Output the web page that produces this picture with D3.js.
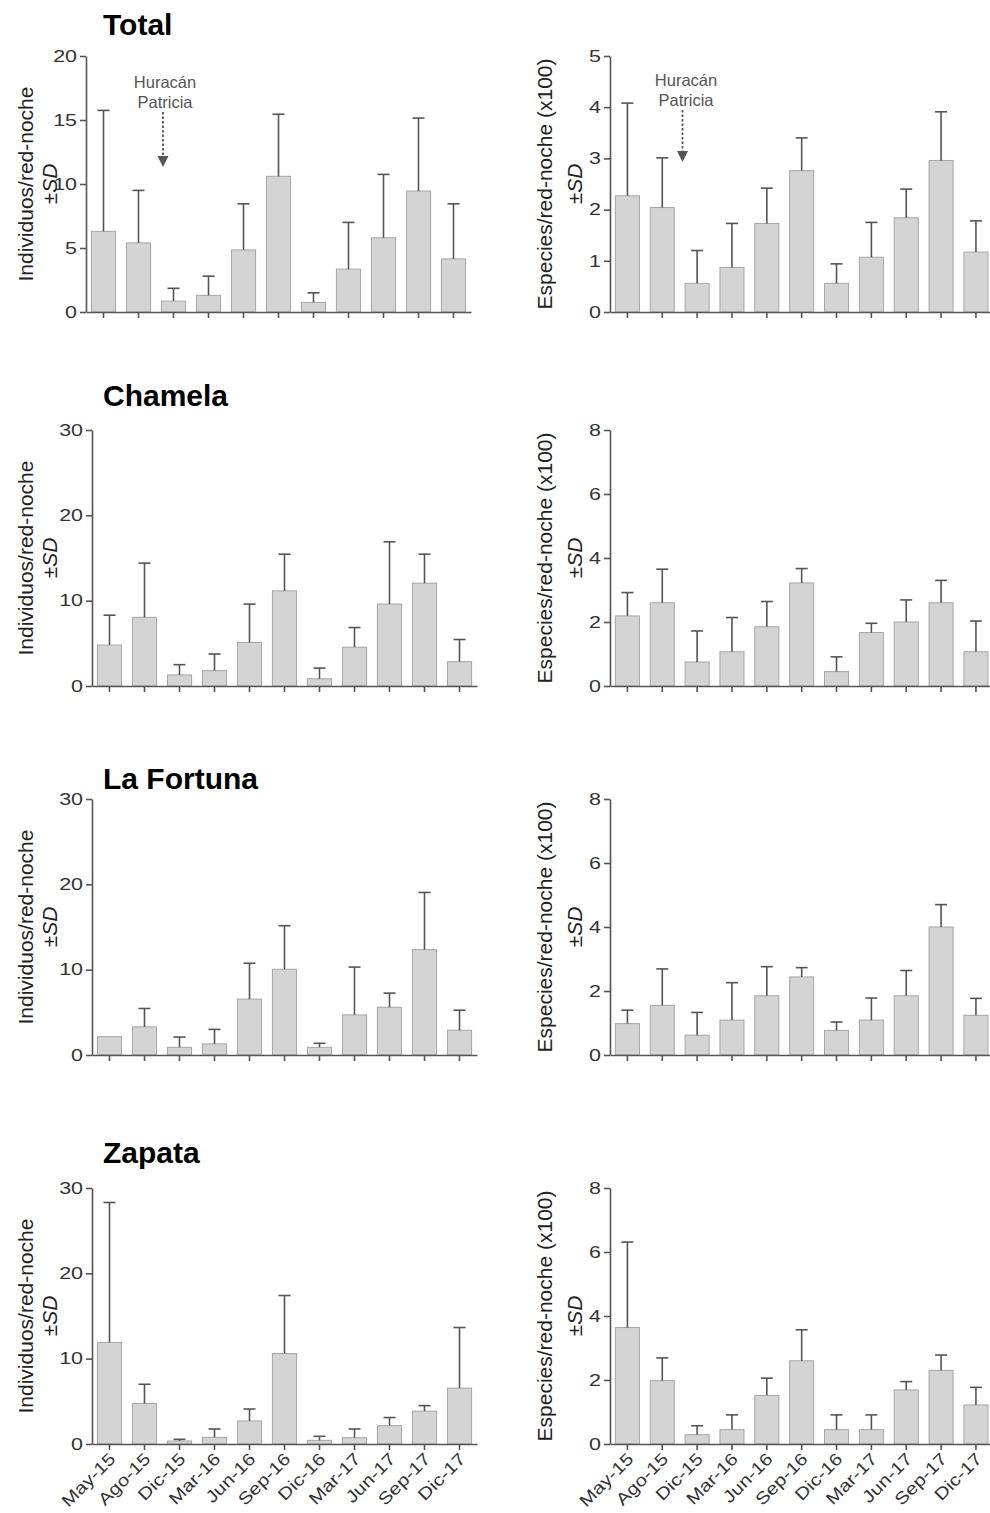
<!DOCTYPE html>
<html>
<head>
<meta charset="utf-8">
<script src="https://cdn.jsdelivr.net/npm/d3@7"></script>
<style>
  body { margin: 0; background: #fff; }
  svg text { font-family: "Liberation Sans", Arial, sans-serif; }
</style>
</head>
<body>
<svg id="chart" width="990" height="1513"></svg>
<script>
// Sampling dates
const months = ["May-15","Ago-15","Dic-15","Mar-16","Jun-16","Sep-16","Dic-16","Mar-17","Jun-17","Sep-17","Dic-17"];

// Sites (panel titles)
const sites = ["Total", "Chamela", "La Fortuna", "Zapata"];

// Individuals per net-night: mean and SD
const totalIndMean   = [6.3, 5.4, 0.85, 1.3, 4.85, 10.6, 0.75, 3.35, 5.8, 9.45, 4.15];
const totalIndSD     = [9.45, 4.1, 1.0, 1.5, 3.6, 4.85, 0.75, 3.65, 4.95, 5.7, 4.3];
const chamelaIndMean = [4.8, 8.05, 1.3, 1.8, 5.1, 11.15, 0.85, 4.55, 9.6, 12.05, 2.85];
const chamelaIndSD   = [3.5, 6.35, 1.2, 1.95, 4.5, 4.3, 1.25, 2.3, 7.3, 3.4, 2.6];
const fortunaIndMean = [2.15, 3.3, 0.9, 1.3, 6.55, 10.05, 0.9, 4.7, 5.6, 12.35, 2.9];
const fortunaIndSD   = [0, 2.15, 1.2, 1.7, 4.2, 5.1, 0.47, 5.6, 1.65, 6.7, 2.35];
const zapataIndMean  = [11.9, 4.75, 0.35, 0.78, 2.7, 10.6, 0.43, 0.74, 2.15, 3.85, 6.55];
const zapataIndSD    = [16.4, 2.25, 0.2, 0.98, 1.4, 6.8, 0.47, 1.02, 0.95, 0.65, 7.1];

// Species per net-night (x100): mean and SD
const totalSpMean   = [2.27, 2.04, 0.56, 0.87, 1.73, 2.76, 0.56, 1.07, 1.84, 2.96, 1.17];
const totalSpSD     = [1.81, 0.97, 0.64, 0.86, 0.69, 0.64, 0.38, 0.68, 0.56, 0.95, 0.61];
const chamelaSpMean = [2.19, 2.6, 0.75, 1.07, 1.85, 3.22, 0.45, 1.67, 2.0, 2.6, 1.07];
const chamelaSpSD   = [0.73, 1.05, 0.97, 1.07, 0.79, 0.45, 0.46, 0.29, 0.69, 0.7, 0.96];
const fortunaSpMean = [0.98, 1.55, 0.62, 1.09, 1.85, 2.44, 0.77, 1.09, 1.85, 4.0, 1.24];
const fortunaSpSD   = [0.42, 1.14, 0.71, 1.17, 0.91, 0.29, 0.26, 0.69, 0.79, 0.7, 0.53];
const zapataSpMean  = [3.64, 1.98, 0.29, 0.45, 1.52, 2.6, 0.45, 0.45, 1.69, 2.3, 1.22];
const zapataSpSD    = [2.67, 0.71, 0.28, 0.46, 0.54, 0.97, 0.46, 0.46, 0.26, 0.48, 0.55];

// Axis ticks
const indTicksTotal = [0, 5, 10, 15, 20];
const indTicksSite  = [0, 10, 20, 30];
const spTicksTotal  = [0, 1, 2, 3, 4, 5];
const spTicksSite   = [0, 2, 4, 6, 8];

// Axis titles and annotation
const indLabel = "Individuos/red-noche";
const spLabel  = "Especies/red-noche (x100)";
const hurricaneLines = ["Huracán", "Patricia"];

const indMeans = [totalIndMean, chamelaIndMean, fortunaIndMean, zapataIndMean];
const indSDs   = [totalIndSD, chamelaIndSD, fortunaIndSD, zapataIndSD];
const spMeans  = [totalSpMean, chamelaSpMean, fortunaSpMean, zapataSpMean];
const spSDs    = [totalSpSD, chamelaSpSD, fortunaSpSD, zapataSpSD];

// ---- layout ----
const rowTop = [56, 430, 799, 1188];
const rowH = 256;
const titleY = [35, 406, 789, 1163];
const leftAxisX = [86, 92, 92, 92];
const leftStep = 35;
const rightAxisX = 610;
const rightStep = 34.85;

const axisColor = "#555";
const barFill = "#d4d4d4";
const barStroke = "#a6a6a6";
const errColor = "#555";

const svg = d3.select("#chart");

// stretch a text element horizontally to a wider set width
function widen(sel, k) {
  sel.each(function () {
    const w = this.getComputedTextLength();
    this.setAttribute("textLength", w * k);
    this.setAttribute("lengthAdjust", "spacingAndGlyphs");
  });
}

function drawPanel(opts) {
  const { axisX, step, top, means, sds, ticks, maxV, label, labelX, showMonths } = opts;
  const y0 = top + rowH;
  const x = d3.scaleBand()
    .domain(months)
    .range([axisX, axisX + step * months.length])
    .paddingInner(0.31)
    .paddingOuter(0.155);
  const y = d3.scaleLinear().domain([0, maxV]).range([y0, top]);

  const g = svg.append("g");

  // bars
  g.selectAll("rect.bar")
    .data(months.map((m, i) => ({ m, v: means[i], sd: sds[i] })))
    .join("rect")
    .attr("class", "bar")
    .attr("x", d => x(d.m))
    .attr("y", d => y(d.v))
    .attr("width", x.bandwidth())
    .attr("height", d => y0 - y(d.v))
    .attr("fill", barFill)
    .attr("stroke", barStroke)
    .attr("stroke-width", 1);

  // upper error bars
  const eb = g.selectAll("g.err")
    .data(months.map((m, i) => ({ m, v: means[i], sd: sds[i] })).filter(d => d.sd > 0))
    .join("g")
    .attr("class", "err")
    .attr("stroke", errColor)
    .attr("stroke-width", 1.6);
  eb.append("line")
    .attr("x1", d => x(d.m) + x.bandwidth() / 2)
    .attr("x2", d => x(d.m) + x.bandwidth() / 2)
    .attr("y1", d => y(d.v))
    .attr("y2", d => y(d.v + d.sd));
  eb.append("line")
    .attr("x1", d => x(d.m) + x.bandwidth() / 2 - 6)
    .attr("x2", d => x(d.m) + x.bandwidth() / 2 + 6)
    .attr("y1", d => y(d.v + d.sd))
    .attr("y2", d => y(d.v + d.sd));

  // y axis
  const ya = g.append("g")
    .attr("transform", `translate(${axisX},0)`)
    .call(d3.axisLeft(y).tickValues(ticks).tickFormat(d3.format("d"))
      .tickSize(6).tickSizeOuter(0).tickPadding(3));
  ya.select(".domain").attr("stroke", axisColor).attr("stroke-width", 1.6);
  ya.selectAll(".tick line").attr("stroke", axisColor).attr("stroke-width", 1.6);
  ya.selectAll(".tick text")
    .attr("fill", "#333")
    .style("font-size", "16.5px")
    .call(widen, 1.3);

  // x axis
  const xa = g.append("g")
    .attr("transform", `translate(0,${y0})`)
    .call(d3.axisBottom(x).tickSize(6).tickSizeOuter(0).tickFormat(""));
  xa.select(".domain").attr("stroke", axisColor).attr("stroke-width", 1.6);
  xa.selectAll(".tick line").attr("stroke", axisColor).attr("stroke-width", 1.6);

  if (showMonths) {
    g.selectAll("text.month")
      .data(months)
      .join("text")
      .attr("class", "month")
      .attr("transform", d => `translate(${x(d) + x.bandwidth() / 2 + 7},${y0 + 16}) rotate(-45)`)
      .attr("text-anchor", "end")
      .attr("fill", "#333")
      .style("font-size", "17px")
      .text(d => d)
      .call(widen, 1.2);
  }

  // y-axis title, two lines
  const cy = top + rowH / 2;
  g.append("text")
    .attr("transform", `translate(${labelX[0]},${cy}) rotate(-90)`)
    .attr("text-anchor", "middle")
    .attr("fill", "#222")
    .style("font-size", "21px")
    .text(label);
  const sdT = g.append("text")
    .attr("transform", `translate(${labelX[1]},${cy}) rotate(-90)`)
    .attr("text-anchor", "middle")
    .attr("fill", "#222")
    .style("font-size", "21px");
  sdT.append("tspan").text("±");
  sdT.append("tspan").attr("font-style", "italic").text("SD");

  return { x, y };
}

function hurricane(sc, frac, textX, baseY, arrowTop, arrowBottom) {
  const ax = sc.x("Ago-15") + sc.x.bandwidth() / 2 + sc.x.step() * frac;
  const g = svg.append("g").attr("fill", "#555");
  hurricaneLines.forEach((t, i) => {
    g.append("text")
      .attr("x", textX)
      .attr("y", baseY + i * 19.5)
      .attr("text-anchor", "middle")
      .style("font-size", "16.5px")
      .text(t);
  });
  g.append("line")
    .attr("x1", ax).attr("x2", ax)
    .attr("y1", arrowTop).attr("y2", arrowBottom - 10)
    .attr("stroke", "#555")
    .attr("stroke-width", 1.8)
    .attr("stroke-dasharray", "2.5,2");
  g.append("path")
    .attr("d", `M${ax - 5.5},${arrowBottom - 11} L${ax + 5.5},${arrowBottom - 11} L${ax},${arrowBottom} Z`)
    .attr("fill", "#555");
}

sites.forEach((site, r) => {
  svg.append("text")
    .attr("x", 103)
    .attr("y", titleY[r])
    .attr("fill", "#000")
    .style("font-size", "30px")
    .style("font-weight", "bold")
    .text(site);

  const left = drawPanel({
    axisX: leftAxisX[r], step: leftStep, top: rowTop[r],
    means: indMeans[r], sds: indSDs[r],
    ticks: r === 0 ? indTicksTotal : indTicksSite,
    maxV: r === 0 ? 20 : 30,
    label: indLabel, labelX: [33, 57], showMonths: r === 3
  });
  const right = drawPanel({
    axisX: rightAxisX, step: rightStep, top: rowTop[r],
    means: spMeans[r], sds: spSDs[r],
    ticks: r === 0 ? spTicksTotal : spTicksSite,
    maxV: r === 0 ? 5 : 8,
    label: spLabel, labelX: [552, 582], showMonths: r === 3
  });

  if (r === 0) {
    hurricane(left, 0.7, 165, 88, 112, 167);
    hurricane(right, 0.58, 686, 86, 110, 162);
  }
});
</script>
</body>
</html>
